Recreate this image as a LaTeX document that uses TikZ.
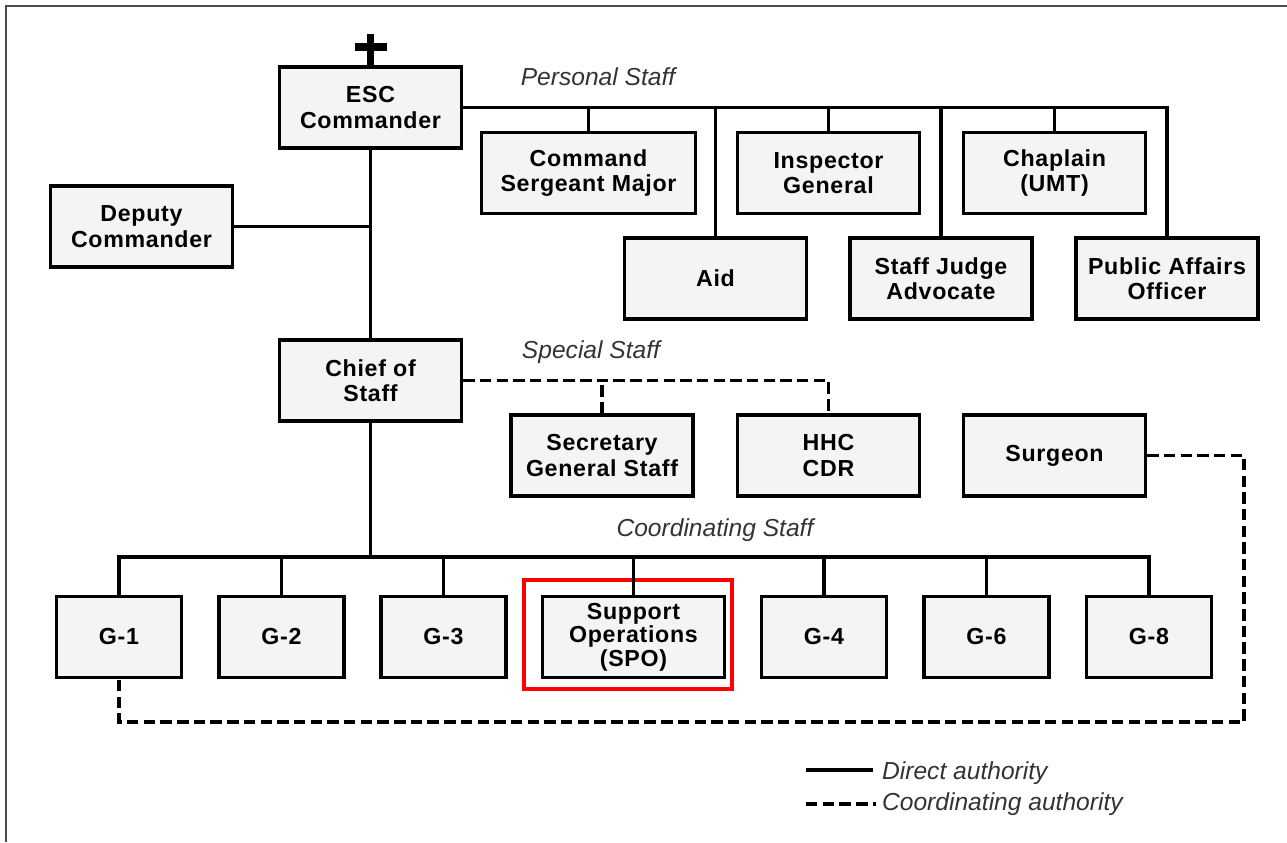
\documentclass[tikz,border=0pt]{standalone}
\usepackage{fontspec}
\setmainfont{Liberation Sans}
\newfontfamily\boxfont[LetterSpace=3]{Liberation Sans}

\begin{document}
\begin{tikzpicture}[x=0.02cm, y=-0.02cm,
    staffbox/.style={draw, line width=2pt, fill=gray!9, minimum width=3.64cm, minimum height=1.62cm, inner sep=0pt, align=center, font=\boxfont\bfseries\fontsize{13.2}{14.5}\selectfont},
    gbox/.style={staffbox, minimum width=2.5cm},
    direct/.style={line width=2pt},
    coordline/.style={line width=2pt, dash pattern=on 6.5pt off 3pt},
    grouplabel/.style={font=\itshape\fontsize{14}{16}\selectfont, text=black!80},
]
\useasboundingbox (0,0) rectangle (1287,842);
\draw[line width=1.5pt, black!70] (6,842) -- (6,6) -- (1287,6);

% Command group
\node[staffbox] (esc) at (370.5,107.5) {ESC\\Commander};
\node[staffbox] (dep) at (141.5,226.5) {Deputy\\Commander};
\node[staffbox] (cos) at (370.5,380.5) {Chief of\\Staff};

% Personal staff
\node[staffbox, minimum width=4.28cm] (csm) at (588.5,173) {Command\\Sergeant Major};
\node[staffbox] (ig) at (828.5,173) {Inspector\\General};
\node[staffbox] (chap) at (1054.5,173) {Chaplain\\(UMT)};
\node[staffbox] (aid) at (715.5,278.5) {Aid};
\node[staffbox] (sja) at (941,278.5) {Staff Judge\\Advocate};
\node[staffbox] (pao) at (1167,278.5) {Public Affairs\\Officer};

% Special staff
\node[staffbox] (sgs) at (602,455.5) {Secretary\\General Staff};
\node[staffbox] (hhc) at (828.5,455.5) {HHC\\CDR};
\node[staffbox] (surg) at (1054.5,455.5) {Surgeon};

% Coordinating staff
\foreach \name/\txt/\x in {g1/G-1/119, g2/G-2/281.5, g3/G-3/443.5, g4/G-4/824, g6/G-6/986.5, g8/G-8/1149} {
    \node[gbox] (\name) at (\x,637) {\txt};
}
\node[staffbox, font=\boxfont\bfseries\fontsize{13.2}{12}\selectfont] (spo) at (633.5,637) {Support\\Operations\\(SPO)};
\node[draw=red, line width=2.3pt, minimum width=4.16cm, minimum height=2.18cm, inner sep=0pt] (spoframe) at (628,634.5) {};

% Cross
\coordinate (crosstop) at (370.5,34);
\draw[line width=4pt] (esc.north) -- (crosstop);
\draw[line width=4pt] (355,47) -- (387,47);

% Direct lines
\draw[direct] (esc.east) -| (pao.north);
\foreach \n in {csm, ig, chap, aid, sja} {
    \draw[direct] (\n.north) -- (\n.north |- esc.east);
}
\draw[direct] (dep.east) -- (dep.east -| esc.south);
\draw[direct] (esc.south) -- (cos.north);
\coordinate (cbus) at (370.5,557);
\draw[direct] (cos.south) -- (cbus);
\draw[direct] (g1.north) -- (g1.north |- cbus) -- (g8.north |- cbus) -- (g8.north);
\foreach \n in {g2, g3, spo, g4, g6} {
    \draw[direct] (\n.north) -- (\n.north |- cbus);
}

% Coordinating lines
\draw[coordline] (cos.east) -| (hhc.north);
\draw[coordline] (sgs.north) -- (sgs.north |- cos.east);
\coordinate (loopcorner) at (1244,722);
\draw[coordline] (surg.east) -| (loopcorner) -| (g1.south);

% Group labels
\node[grouplabel] (personal) at (598,77) {Personal Staff};
\node[grouplabel] (special) at (591,352) {Special Staff};
\node[grouplabel] (coordinating) at (715,530) {Coordinating Staff};

% Legend
\coordinate (legdirA) at (806,770);
\coordinate (legdirB) at (873,770);
\draw[direct] (legdirA) -- (legdirB);
\node[grouplabel, anchor=west, inner sep=1pt] (legdir) at (880,773) {Direct authority};
\coordinate (legcoA) at (806,804);
\coordinate (legcoB) at (876,804);
\draw[coordline] (legcoA) -- (legcoB);
\node[grouplabel, anchor=west, inner sep=1pt] (legco) at (880,804) {Coordinating authority};
\end{tikzpicture}
\end{document}
